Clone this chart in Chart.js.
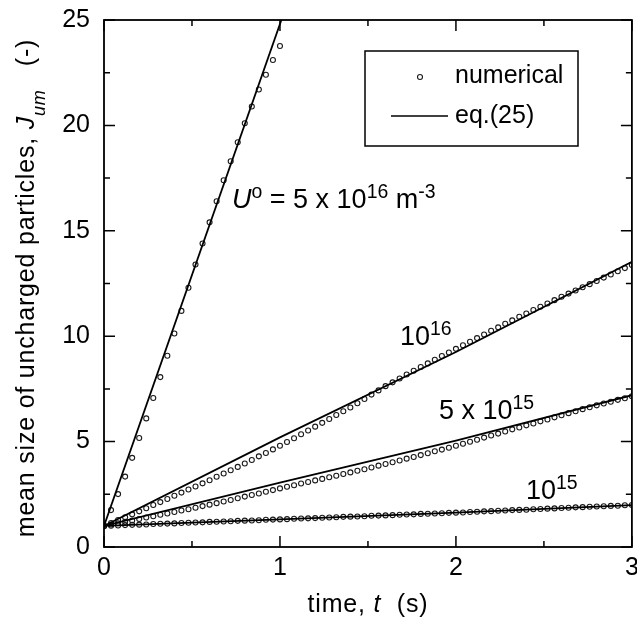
<!DOCTYPE html>
<html>
<head>
<meta charset="utf-8">
<script src="https://cdn.jsdelivr.net/npm/chart.js@4.4.1/dist/chart.umd.min.js"></script>
<style>
  html, body { margin: 0; padding: 0; background: #fff; }
  canvas { display: block; }
</style>
</head>
<body>
<canvas id="chart" width="637" height="631"></canvas>
<script>
// time axis for the numerical points (s)
const timeNum = [0, 0.04, 0.08, 0.12, 0.16, 0.2, 0.24, 0.28, 0.32, 0.36, 0.4, 0.44, 0.48, 0.52, 0.56, 0.6,
  0.64, 0.68, 0.72, 0.76, 0.8, 0.84, 0.88, 0.92, 0.96, 1, 1.04, 1.08, 1.12, 1.16, 1.2, 1.24, 1.28, 1.32,
  1.36, 1.4, 1.44, 1.48, 1.52, 1.56, 1.6, 1.64, 1.68, 1.72, 1.76, 1.8, 1.84, 1.88, 1.92, 1.96, 2, 2.04,
  2.08, 2.12, 2.16, 2.2, 2.24, 2.28, 2.32, 2.36, 2.4, 2.44, 2.48, 2.52, 2.56, 2.6, 2.64, 2.68, 2.72, 2.76,
  2.8, 2.84, 2.88, 2.92, 2.96, 3];

// numerical results, mean size J_um
const num5e16 = [1.00, 1.75, 2.51, 3.34, 4.23, 5.17, 6.10, 7.07, 8.06, 9.07, 10.13, 11.2, 12.3, 13.4,
  14.4, 15.4, 16.4, 17.4, 18.3, 19.2, 20.1, 20.9, 21.7, 22.4, 23.1, 23.77];
const num1e16 = [1.00, 1.14, 1.28, 1.41, 1.55, 1.69, 1.84, 1.99, 2.13, 2.28, 2.43, 2.58, 2.73, 2.87,
  3.02, 3.17, 3.33, 3.49, 3.64, 3.80, 3.96, 4.13, 4.30, 4.46, 4.63, 4.80, 4.98, 5.16, 5.35, 5.53, 5.71,
  5.89, 6.07, 6.26, 6.44, 6.62, 6.82, 7.02, 7.23, 7.43, 7.63, 7.81, 7.99, 8.18, 8.36, 8.54, 8.71, 8.88,
  9.06, 9.23, 9.40, 9.57, 9.74, 9.91, 10.08, 10.26, 10.42, 10.59, 10.75, 10.92, 11.08, 11.24, 11.40,
  11.55, 11.71, 11.87, 12.02, 12.17, 12.32, 12.47, 12.62, 12.78, 12.93, 13.08, 13.23, 13.38];
const num5e15 = [1.00, 1.07, 1.13, 1.20, 1.26, 1.33, 1.40, 1.46, 1.53, 1.59, 1.66, 1.73, 1.79, 1.86,
  1.94, 2.01, 2.08, 2.16, 2.23, 2.31, 2.39, 2.47, 2.54, 2.62, 2.70, 2.78, 2.86, 2.93, 3.01, 3.08, 3.16,
  3.23, 3.31, 3.38, 3.46, 3.54, 3.62, 3.69, 3.77, 3.86, 3.94, 4.02, 4.10, 4.19, 4.27, 4.36, 4.45, 4.54,
  4.62, 4.71, 4.80, 4.90, 4.99, 5.09, 5.19, 5.29, 5.38, 5.48, 5.58, 5.67, 5.77, 5.86, 5.96, 6.05, 6.15,
  6.25, 6.35, 6.44, 6.54, 6.63, 6.72, 6.81, 6.89, 6.98, 7.06, 7.15];
const num1e15 = [1.00, 1.01, 1.02, 1.04, 1.05, 1.06, 1.07, 1.09, 1.10, 1.11, 1.12, 1.14, 1.15, 1.16,
  1.17, 1.19, 1.20, 1.21, 1.22, 1.24, 1.25, 1.26, 1.27, 1.29, 1.30, 1.31, 1.32, 1.34, 1.35, 1.36, 1.37,
  1.39, 1.40, 1.41, 1.43, 1.44, 1.45, 1.46, 1.48, 1.49, 1.50, 1.51, 1.53, 1.54, 1.55, 1.57, 1.58, 1.59,
  1.60, 1.62, 1.63, 1.64, 1.66, 1.67, 1.69, 1.70, 1.72, 1.73, 1.75, 1.76, 1.77, 1.79, 1.80, 1.82, 1.83,
  1.85, 1.86, 1.88, 1.89, 1.91, 1.92, 1.93, 1.95, 1.96, 1.98, 1.99];

// eq.(25) curves
const eqTime = [0, 1, 2, 3];
const eqTime5e16 = [0, 1.008];
const eq5e16 = [1, 25];
const eq1e16 = [1, 5.2, 9.25, 13.53];
const eq5e15 = [1, 3.05, 5.05, 7.2];
const eq1e15 = [1, 1.31, 1.63, 1.99];

const xTicks = [0, 1, 2, 3];
const yTicks = [0, 5, 10, 15, 20, 25];

const FONT = "'Liberation Sans', Arial, Helvetica, sans-serif";
Chart.defaults.font.family = FONT;
Chart.defaults.color = "#000";

function pts(xs, ys) {
  return ys.map((y, i) => ({ x: xs[i], y: y }));
}

function numSet(ys) {
  return {
    data: pts(timeNum, ys),
    showLine: false,
    pointStyle: "circle",
    pointRadius: 2.5,
    pointBorderWidth: 1.1,
    pointBorderColor: "#1a1a1a",
    pointBackgroundColor: "rgba(255,255,255,0)"
  };
}

function eqSet(xs, ys) {
  return {
    data: pts(xs, ys),
    showLine: true,
    borderColor: "#000",
    borderWidth: 1.8,
    pointRadius: 0,
    tension: 0
  };
}

// rich text: parts = [{t, italic, sup, sub}]
function partFont(p, fs) {
  const s = (p.sup || p.sub) ? fs * 0.72 : fs;
  return (p.italic ? "italic " : "") + s + "px " + FONT;
}
function drawRich(ctx, parts, x, y, fs, align, spacing) {
  ctx.letterSpacing = (spacing || 0) + "px";
  let w = 0;
  parts.forEach(p => { ctx.font = partFont(p, fs); w += ctx.measureText(p.t).width; });
  let cx = align === "center" ? x - w / 2 : x;
  ctx.textAlign = "left";
  ctx.textBaseline = "alphabetic";
  parts.forEach(p => {
    ctx.font = partFont(p, fs);
    let dy = 0;
    if (p.sup) dy = -fs * 0.36;
    if (p.sub) dy = fs * 0.42;
    ctx.fillText(p.t, cx, y + dy);
    cx += ctx.measureText(p.t).width;
  });
  ctx.letterSpacing = "0px";
}

const decorations = {
  id: "decorations",
  afterDraw(chart) {
    const ctx = chart.ctx;
    const a = chart.chartArea;
    const xs = chart.scales.x, ys = chart.scales.y;
    ctx.save();
    ctx.strokeStyle = "#000";
    ctx.fillStyle = "#000";

    // frame
    ctx.lineWidth = 1.8;
    ctx.strokeRect(a.left, a.top, a.right - a.left, a.bottom - a.top);

    // inward ticks on all four sides
    ctx.lineWidth = 1.5;
    ctx.beginPath();
    for (let v = 0; v <= 3.001; v += 0.5) {
      const px = xs.getPixelForValue(v);
      const len = xTicks.includes(v) ? 11 : 6;
      ctx.moveTo(px, a.bottom); ctx.lineTo(px, a.bottom - len);
      ctx.moveTo(px, a.top); ctx.lineTo(px, a.top + len);
    }
    for (let v = 0; v <= 25.001; v += 2.5) {
      const py = ys.getPixelForValue(v);
      const len = yTicks.includes(v) ? 11 : 6;
      ctx.moveTo(a.left, py); ctx.lineTo(a.left + len, py);
      ctx.moveTo(a.right, py); ctx.lineTo(a.right - len, py);
    }
    ctx.stroke();

    // axis titles
    drawRich(ctx, [{ t: "time, " }, { t: "t", italic: true }, { t: "  (s)" }],
      (a.left + a.right) / 2, 612, 25, "center", 0.8);
    ctx.save();
    ctx.translate(34, 288);
    ctx.rotate(-Math.PI / 2);
    drawRich(ctx, [{ t: "mean size of uncharged particles, " }, { t: "J", italic: true },
      { t: "um", italic: true, sub: true }, { t: "   (-)" }], 0, 0, 25, "center", 0.8);
    ctx.restore();

    // curve labels
    drawRich(ctx, [{ t: "U", italic: true }, { t: "o", sup: true }, { t: " = 5 x 10" },
      { t: "16", sup: true }, { t: " m" }, { t: "-3", sup: true }], 232, 208, 27);
    drawRich(ctx, [{ t: "10" }, { t: "16", sup: true }], 400, 345, 27);
    drawRich(ctx, [{ t: "5 x 10" }, { t: "15", sup: true }], 439, 419, 27);
    drawRich(ctx, [{ t: "10" }, { t: "15", sup: true }], 526, 499, 27);

    // legend box
    ctx.lineWidth = 1.5;
    ctx.strokeRect(365, 51, 213, 95);
    ctx.lineWidth = 1.1;
    ctx.strokeStyle = "#1a1a1a";
    ctx.beginPath();
    ctx.arc(420, 77, 2.5, 0, Math.PI * 2);
    ctx.stroke();
    ctx.strokeStyle = "#000";
    ctx.lineWidth = 1.5;
    ctx.beginPath();
    ctx.moveTo(391, 116); ctx.lineTo(448, 116);
    ctx.stroke();
    ctx.font = "25px " + FONT;
    ctx.textAlign = "left";
    ctx.textBaseline = "alphabetic";
    ctx.fillText("numerical", 455, 83);
    ctx.fillText("eq.(25)", 455, 123);

    ctx.restore();
  }
};

new Chart(document.getElementById("chart"), {
  type: "scatter",
  data: {
    datasets: [
      eqSet(eqTime5e16, eq5e16),
      eqSet(eqTime, eq1e16),
      eqSet(eqTime, eq5e15),
      eqSet(eqTime, eq1e15),
      numSet(num5e16),
      numSet(num1e16),
      numSet(num5e15),
      numSet(num1e15)
    ]
  },
  options: {
    responsive: false,
    animation: false,
    devicePixelRatio: 1,
    layout: { padding: { left: 0, right: 5, top: 20, bottom: 0 } },
    plugins: { legend: { display: false }, tooltip: { enabled: false } },
    scales: {
      x: {
        type: "linear",
        min: 0, max: 3,
        grid: { display: false, drawTicks: false },
        border: { display: false },
        ticks: { stepSize: 1, padding: 6, font: { size: 25 }, color: "#000", maxRotation: 0 },
        afterFit(s) { s.height = 84; s.paddingLeft = 0; s.paddingRight = 0; }
      },
      y: {
        type: "linear",
        min: 0, max: 25,
        grid: { display: false, drawTicks: false },
        border: { display: false },
        ticks: { stepSize: 5, padding: 14, font: { size: 25 }, color: "#000" },
        afterFit(s) { s.width = 104; s.paddingTop = 0; s.paddingBottom = 0; }
      }
    }
  },
  plugins: [decorations]
});
</script>
</body>
</html>
